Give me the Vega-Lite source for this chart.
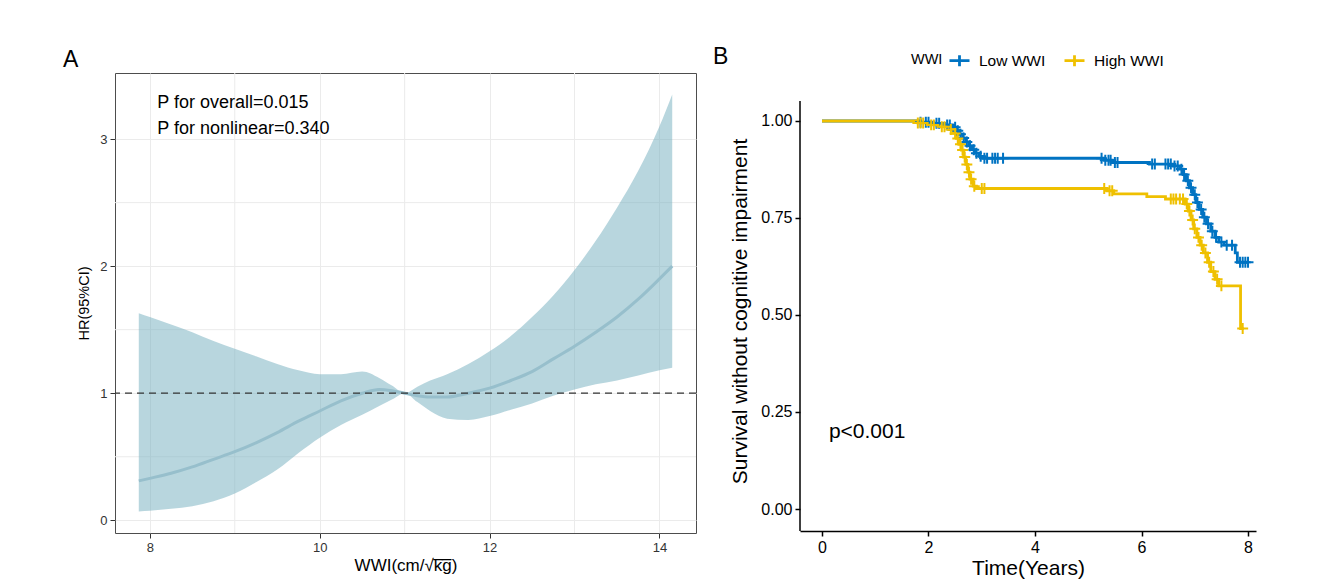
{
  "$schema": "https://vega.github.io/schema/vega-lite/v6.json",
  "padding": {"left": 62, "top": 46, "right": 5, "bottom": 5},
  "background": "white",
  "spacing": 15,
  "resolve": {"scale": {"color": "independent"}, "legend": {"color": "independent"}},
  "config": {"font": "Liberation Sans", "view": {"stroke": null}},
  "datasets": {
    "curve": [
      {"x": 7.87, "hr": 0.31, "lo": 0.07, "hi": 1.63},
      {"x": 8.0, "hr": 0.33, "lo": 0.075, "hi": 1.60},
      {"x": 8.25, "hr": 0.37, "lo": 0.09, "hi": 1.54},
      {"x": 8.5, "hr": 0.42, "lo": 0.11, "hi": 1.48},
      {"x": 8.75, "hr": 0.48, "lo": 0.15, "hi": 1.41},
      {"x": 9.0, "hr": 0.54, "lo": 0.21, "hi": 1.35},
      {"x": 9.25, "hr": 0.61, "lo": 0.30, "hi": 1.29},
      {"x": 9.5, "hr": 0.69, "lo": 0.40, "hi": 1.23},
      {"x": 9.75, "hr": 0.78, "lo": 0.53, "hi": 1.18},
      {"x": 10.0, "hr": 0.86, "lo": 0.65, "hi": 1.15},
      {"x": 10.25, "hr": 0.94, "lo": 0.75, "hi": 1.15},
      {"x": 10.5, "hr": 1.0, "lo": 0.83, "hi": 1.17},
      {"x": 10.7, "hr": 1.03, "lo": 0.90, "hi": 1.12},
      {"x": 10.85, "hr": 1.02, "lo": 0.95, "hi": 1.06},
      {"x": 11.0, "hr": 1.0, "lo": 1.0, "hi": 1.0},
      {"x": 11.15, "hr": 0.98, "lo": 0.93, "hi": 1.05},
      {"x": 11.3, "hr": 0.97, "lo": 0.86, "hi": 1.10},
      {"x": 11.5, "hr": 0.97, "lo": 0.80, "hi": 1.15},
      {"x": 11.75, "hr": 1.0, "lo": 0.79, "hi": 1.23},
      {"x": 12.0, "hr": 1.04, "lo": 0.82, "hi": 1.33},
      {"x": 12.25, "hr": 1.10, "lo": 0.87, "hi": 1.45},
      {"x": 12.5, "hr": 1.17, "lo": 0.92, "hi": 1.60},
      {"x": 12.75, "hr": 1.27, "lo": 0.98, "hi": 1.77},
      {"x": 13.0, "hr": 1.37, "lo": 1.03, "hi": 1.97},
      {"x": 13.25, "hr": 1.48, "lo": 1.07, "hi": 2.20},
      {"x": 13.5, "hr": 1.60, "lo": 1.10, "hi": 2.46},
      {"x": 13.75, "hr": 1.74, "lo": 1.14, "hi": 2.75},
      {"x": 14.0, "hr": 1.90, "lo": 1.18, "hi": 3.10},
      {"x": 14.15, "hr": 2.00, "lo": 1.20, "hi": 3.35}
    ],
    "gridx": [{"v": 9}, {"v": 11}, {"v": 13}],
    "gridy": [{"v": 0.5}, {"v": 1.5}, {"v": 2.5}],
    "ref": [{"v": 1}],
    "km": [
      {"group": "Low WWI", "time": 0, "surv": 1.0},
      {"group": "Low WWI", "time": 1.85, "surv": 0.997},
      {"group": "Low WWI", "time": 2.1, "surv": 0.994},
      {"group": "Low WWI", "time": 2.3, "surv": 0.99},
      {"group": "Low WWI", "time": 2.45, "surv": 0.984},
      {"group": "Low WWI", "time": 2.52, "surv": 0.975},
      {"group": "Low WWI", "time": 2.58, "surv": 0.966},
      {"group": "Low WWI", "time": 2.64, "surv": 0.956},
      {"group": "Low WWI", "time": 2.70, "surv": 0.946},
      {"group": "Low WWI", "time": 2.76, "surv": 0.936},
      {"group": "Low WWI", "time": 2.82, "surv": 0.926},
      {"group": "Low WWI", "time": 2.88, "surv": 0.917},
      {"group": "Low WWI", "time": 2.95, "surv": 0.909},
      {"group": "Low WWI", "time": 3.02, "surv": 0.904},
      {"group": "Low WWI", "time": 5.3, "surv": 0.899},
      {"group": "Low WWI", "time": 5.45, "surv": 0.893},
      {"group": "Low WWI", "time": 6.15, "surv": 0.889},
      {"group": "Low WWI", "time": 6.6, "surv": 0.884},
      {"group": "Low WWI", "time": 6.72, "surv": 0.876},
      {"group": "Low WWI", "time": 6.78, "surv": 0.862},
      {"group": "Low WWI", "time": 6.84, "surv": 0.846},
      {"group": "Low WWI", "time": 6.90, "surv": 0.828},
      {"group": "Low WWI", "time": 6.96, "surv": 0.81},
      {"group": "Low WWI", "time": 7.02, "surv": 0.79},
      {"group": "Low WWI", "time": 7.08, "surv": 0.772},
      {"group": "Low WWI", "time": 7.15, "surv": 0.752},
      {"group": "Low WWI", "time": 7.22, "surv": 0.735},
      {"group": "Low WWI", "time": 7.30, "surv": 0.716},
      {"group": "Low WWI", "time": 7.38, "surv": 0.70},
      {"group": "Low WWI", "time": 7.45, "surv": 0.688},
      {"group": "Low WWI", "time": 7.55, "surv": 0.68},
      {"group": "Low WWI", "time": 7.76, "surv": 0.66},
      {"group": "Low WWI", "time": 7.80, "surv": 0.636},
      {"group": "Low WWI", "time": 8.0, "surv": 0.636},
      {"group": "High WWI", "time": 0, "surv": 1.0},
      {"group": "High WWI", "time": 1.8, "surv": 0.995},
      {"group": "High WWI", "time": 2.0, "surv": 0.99},
      {"group": "High WWI", "time": 2.2, "surv": 0.985},
      {"group": "High WWI", "time": 2.38, "surv": 0.978},
      {"group": "High WWI", "time": 2.46, "surv": 0.968},
      {"group": "High WWI", "time": 2.52, "surv": 0.955},
      {"group": "High WWI", "time": 2.57, "surv": 0.94},
      {"group": "High WWI", "time": 2.62, "surv": 0.925},
      {"group": "High WWI", "time": 2.66, "surv": 0.907},
      {"group": "High WWI", "time": 2.70, "surv": 0.888},
      {"group": "High WWI", "time": 2.74, "surv": 0.868},
      {"group": "High WWI", "time": 2.78, "surv": 0.85},
      {"group": "High WWI", "time": 2.84, "surv": 0.832},
      {"group": "High WWI", "time": 2.90, "surv": 0.826},
      {"group": "High WWI", "time": 5.35, "surv": 0.82},
      {"group": "High WWI", "time": 5.48, "surv": 0.812},
      {"group": "High WWI", "time": 6.10, "surv": 0.805},
      {"group": "High WWI", "time": 6.45, "surv": 0.799},
      {"group": "High WWI", "time": 6.82, "surv": 0.786},
      {"group": "High WWI", "time": 6.88, "surv": 0.768},
      {"group": "High WWI", "time": 6.93, "surv": 0.745},
      {"group": "High WWI", "time": 6.98, "surv": 0.722},
      {"group": "High WWI", "time": 7.04, "surv": 0.70},
      {"group": "High WWI", "time": 7.10, "surv": 0.68},
      {"group": "High WWI", "time": 7.16, "surv": 0.66},
      {"group": "High WWI", "time": 7.24, "surv": 0.636},
      {"group": "High WWI", "time": 7.30, "surv": 0.612},
      {"group": "High WWI", "time": 7.38, "surv": 0.592},
      {"group": "High WWI", "time": 7.45, "surv": 0.575},
      {"group": "High WWI", "time": 7.86, "surv": 0.465},
      {"group": "High WWI", "time": 7.92, "surv": 0.465}
    ],
    "censor": [
      {"group": "Low WWI", "time": 1.85, "surv": 0.997},
      {"group": "Low WWI", "time": 1.95, "surv": 0.997},
      {"group": "Low WWI", "time": 2.0, "surv": 0.997},
      {"group": "Low WWI", "time": 2.15, "surv": 0.994},
      {"group": "Low WWI", "time": 2.2, "surv": 0.994},
      {"group": "Low WWI", "time": 2.35, "surv": 0.99},
      {"group": "Low WWI", "time": 2.4, "surv": 0.99},
      {"group": "Low WWI", "time": 2.5, "surv": 0.984},
      {"group": "Low WWI", "time": 2.55, "surv": 0.975},
      {"group": "Low WWI", "time": 2.6, "surv": 0.966},
      {"group": "Low WWI", "time": 2.66, "surv": 0.956},
      {"group": "Low WWI", "time": 2.72, "surv": 0.946},
      {"group": "Low WWI", "time": 2.78, "surv": 0.936},
      {"group": "Low WWI", "time": 2.85, "surv": 0.926},
      {"group": "Low WWI", "time": 2.9, "surv": 0.917},
      {"group": "Low WWI", "time": 2.98, "surv": 0.909},
      {"group": "Low WWI", "time": 3.05, "surv": 0.904},
      {"group": "Low WWI", "time": 3.1, "surv": 0.904},
      {"group": "Low WWI", "time": 3.2, "surv": 0.904},
      {"group": "Low WWI", "time": 3.25, "surv": 0.904},
      {"group": "Low WWI", "time": 3.3, "surv": 0.904},
      {"group": "Low WWI", "time": 3.4, "surv": 0.904},
      {"group": "Low WWI", "time": 5.25, "surv": 0.904},
      {"group": "Low WWI", "time": 5.32, "surv": 0.899},
      {"group": "Low WWI", "time": 5.38, "surv": 0.899},
      {"group": "Low WWI", "time": 5.42, "surv": 0.899},
      {"group": "Low WWI", "time": 5.5, "surv": 0.893},
      {"group": "Low WWI", "time": 5.55, "surv": 0.893},
      {"group": "Low WWI", "time": 6.2, "surv": 0.889},
      {"group": "Low WWI", "time": 6.25, "surv": 0.889},
      {"group": "Low WWI", "time": 6.45, "surv": 0.889},
      {"group": "Low WWI", "time": 6.5, "surv": 0.889},
      {"group": "Low WWI", "time": 6.55, "surv": 0.889},
      {"group": "Low WWI", "time": 6.62, "surv": 0.884},
      {"group": "Low WWI", "time": 6.68, "surv": 0.884},
      {"group": "Low WWI", "time": 6.75, "surv": 0.876},
      {"group": "Low WWI", "time": 6.8, "surv": 0.862},
      {"group": "Low WWI", "time": 6.87, "surv": 0.846},
      {"group": "Low WWI", "time": 6.93, "surv": 0.828},
      {"group": "Low WWI", "time": 7.0, "surv": 0.81},
      {"group": "Low WWI", "time": 7.05, "surv": 0.79},
      {"group": "Low WWI", "time": 7.12, "surv": 0.772},
      {"group": "Low WWI", "time": 7.18, "surv": 0.752},
      {"group": "Low WWI", "time": 7.25, "surv": 0.735},
      {"group": "Low WWI", "time": 7.33, "surv": 0.716},
      {"group": "Low WWI", "time": 7.4, "surv": 0.70},
      {"group": "Low WWI", "time": 7.5, "surv": 0.688},
      {"group": "Low WWI", "time": 7.6, "surv": 0.68},
      {"group": "Low WWI", "time": 7.7, "surv": 0.68},
      {"group": "Low WWI", "time": 7.85, "surv": 0.636},
      {"group": "Low WWI", "time": 7.9, "surv": 0.636},
      {"group": "Low WWI", "time": 7.95, "surv": 0.636},
      {"group": "Low WWI", "time": 8.0, "surv": 0.636},
      {"group": "High WWI", "time": 1.8, "surv": 0.995},
      {"group": "High WWI", "time": 1.85, "surv": 0.995},
      {"group": "High WWI", "time": 1.9, "surv": 0.995},
      {"group": "High WWI", "time": 2.05, "surv": 0.99},
      {"group": "High WWI", "time": 2.1, "surv": 0.99},
      {"group": "High WWI", "time": 2.25, "surv": 0.985},
      {"group": "High WWI", "time": 2.3, "surv": 0.985},
      {"group": "High WWI", "time": 2.42, "surv": 0.978},
      {"group": "High WWI", "time": 2.5, "surv": 0.968},
      {"group": "High WWI", "time": 2.55, "surv": 0.955},
      {"group": "High WWI", "time": 2.6, "surv": 0.94},
      {"group": "High WWI", "time": 2.64, "surv": 0.925},
      {"group": "High WWI", "time": 2.68, "surv": 0.907},
      {"group": "High WWI", "time": 2.72, "surv": 0.888},
      {"group": "High WWI", "time": 2.76, "surv": 0.868},
      {"group": "High WWI", "time": 2.8, "surv": 0.85},
      {"group": "High WWI", "time": 2.86, "surv": 0.832},
      {"group": "High WWI", "time": 3.0, "surv": 0.826},
      {"group": "High WWI", "time": 3.05, "surv": 0.826},
      {"group": "High WWI", "time": 5.3, "surv": 0.826},
      {"group": "High WWI", "time": 5.4, "surv": 0.82},
      {"group": "High WWI", "time": 5.45, "surv": 0.82},
      {"group": "High WWI", "time": 6.55, "surv": 0.799},
      {"group": "High WWI", "time": 6.6, "surv": 0.799},
      {"group": "High WWI", "time": 6.65, "surv": 0.799},
      {"group": "High WWI", "time": 6.72, "surv": 0.799},
      {"group": "High WWI", "time": 6.78, "surv": 0.799},
      {"group": "High WWI", "time": 6.85, "surv": 0.786},
      {"group": "High WWI", "time": 6.9, "surv": 0.768},
      {"group": "High WWI", "time": 6.96, "surv": 0.745},
      {"group": "High WWI", "time": 7.0, "surv": 0.722},
      {"group": "High WWI", "time": 7.07, "surv": 0.70},
      {"group": "High WWI", "time": 7.13, "surv": 0.68},
      {"group": "High WWI", "time": 7.2, "surv": 0.66},
      {"group": "High WWI", "time": 7.27, "surv": 0.636},
      {"group": "High WWI", "time": 7.35, "surv": 0.612},
      {"group": "High WWI", "time": 7.42, "surv": 0.592},
      {"group": "High WWI", "time": 7.5, "surv": 0.575},
      {"group": "High WWI", "time": 7.9, "surv": 0.465}
    ]
  },
  "hconcat": [
    {
      "width": 581,
      "height": 460,
      "view": {"stroke": "#4d4d4d", "strokeWidth": 1},
      "title": {"text": "A", "anchor": "start", "frame": "group", "fontSize": 23, "fontWeight": "normal", "color": "black", "dx": -52, "offset": -17, "baseline": "alphabetic"},
      "layer": [
        {
          "data": {"name": "gridx"},
          "mark": {"type": "rule", "color": "#ebebeb", "strokeWidth": 1},
          "encoding": {"x": {"field": "v", "type": "quantitative", "scale": {"domain": [7.59, 14.43], "nice": false, "zero": false}}}
        },
        {
          "data": {"name": "gridy"},
          "mark": {"type": "rule", "color": "#ebebeb", "strokeWidth": 1},
          "encoding": {"y": {"field": "v", "type": "quantitative", "scale": {"domain": [-0.1, 3.52], "nice": false, "zero": false}}}
        },
        {
          "data": {"name": "curve"},
          "mark": {"type": "area", "color": "#71adbd", "opacity": 0.5, "interpolate": "monotone"},
          "encoding": {
            "x": {"field": "x", "type": "quantitative", "scale": {"domain": [7.59, 14.43], "nice": false, "zero": false},
              "axis": {"values": [8, 10, 12, 14], "format": "d", "grid": true, "gridColor": "#ebebeb", "domain": false, "tickColor": "#333333", "tickSize": 5, "labelFontSize": 13, "labelColor": "#333333", "labelPadding": 3, "title": "WWI(cm/\u221ak\u0305g\u0305)", "titleFontSize": 17, "titleFontWeight": "normal", "titleColor": "black", "titlePadding": 3}},
            "y": {"field": "lo", "type": "quantitative", "scale": {"domain": [-0.1, 3.52], "nice": false, "zero": false},
              "axis": {"values": [0, 1, 2, 3], "format": "d", "grid": true, "gridColor": "#ebebeb", "domain": false, "tickColor": "#333333", "tickSize": 5, "labelFontSize": 13, "labelColor": "#333333", "labelPadding": 3, "title": "HR(95%CI)", "titleFontSize": 14.5, "titleFontWeight": "normal", "titleColor": "black", "titlePadding": 8}},
            "y2": {"field": "hi"}
          }
        },
        {
          "data": {"name": "curve"},
          "mark": {"type": "line", "color": "#97bfcc", "strokeWidth": 3, "interpolate": "monotone"},
          "encoding": {
            "x": {"field": "x", "type": "quantitative"},
            "y": {"field": "hr", "type": "quantitative"}
          }
        },
        {
          "data": {"name": "ref"},
          "mark": {"type": "rule", "color": "#333333", "strokeWidth": 1.2, "strokeDash": [7, 5]},
          "encoding": {"y": {"field": "v", "type": "quantitative"}}
        },
        {
          "data": {"values": [{}]},
          "mark": {"type": "text", "text": "P for overall=0.015", "align": "left", "baseline": "alphabetic", "fontSize": 18, "color": "black"},
          "encoding": {"x": {"datum": 8.088}, "y": {"datum": 3.246}}
        },
        {
          "data": {"values": [{}]},
          "mark": {"type": "text", "text": "P for nonlinear=0.340", "align": "left", "baseline": "alphabetic", "fontSize": 18, "color": "black"},
          "encoding": {"x": {"datum": 8.088}, "y": {"datum": 3.037}}
        }
      ]
    },
    {
      "width": 456,
      "height": 458,
      "view": {"stroke": null},
      "title": {"text": "B", "anchor": "start", "frame": "group", "fontSize": 23, "fontWeight": "normal", "color": "black", "dx": -87, "offset": -38, "baseline": "alphabetic"},
      "layer": [
        {
          "data": {"values": [{}]},
          "mark": {"type": "rule", "color": "black", "strokeWidth": 1.5},
          "encoding": {"x": {"datum": -0.413}, "y": {"datum": -0.0567}, "y2": {"datum": 1.0515}}
        },
        {
          "data": {"name": "km"},
          "mark": {"type": "line", "interpolate": "step-after", "strokeWidth": 2.8},
          "encoding": {
            "x": {"field": "time", "type": "quantitative", "scale": {"domain": [-0.413, 8.15], "nice": false, "zero": false},
              "axis": {"values": [0, 2, 4, 6, 8], "grid": false, "domain": true, "domainColor": "black", "domainWidth": 1.5, "tickColor": "black", "tickWidth": 1.5, "tickSize": 5, "labelFontSize": 16, "labelColor": "black", "labelPadding": 3, "title": "Time(Years)", "titleFontSize": 21, "titleFontWeight": "normal", "titleColor": "black", "titlePadding": 2}},
            "y": {"field": "surv", "type": "quantitative", "scale": {"domain": [-0.0567, 1.1237], "nice": false, "zero": false},
              "axis": {"values": [0, 0.25, 0.5, 0.75, 1], "format": ".2f", "grid": false, "domain": false, "tickColor": "black", "tickWidth": 1.5, "tickSize": 5, "labelFontSize": 16, "labelColor": "black", "labelPadding": 3, "title": "Survival without cognitive impairment", "titleFontSize": 21, "titleFontWeight": "normal", "titleColor": "black", "titlePadding": 10, "titleY": 238}},
            "color": {"field": "group", "type": "nominal", "scale": {"domain": ["Low WWI", "High WWI"], "range": ["#0073C2", "#EFC000"]},
              "legend": {"orient": "none", "legendX": 111, "legendY": -24, "direction": "horizontal", "title": "WWI", "titleOrient": "left", "titleFontSize": 14.5, "titleFontWeight": "normal", "titleColor": "black", "titlePadding": 5, "labelFontSize": 15.5, "labelColor": "black", "labelOffset": 8, "columnPadding": 12, "symbolType": "M-1,0H1M0,-0.55V0.55", "symbolSize": 400, "symbolStrokeWidth": 2.8, "padding": 0}}
          }
        },
        {
          "data": {"name": "censor"},
          "mark": {"type": "point", "shape": "M-1,0H1M0,-1V1", "filled": false, "size": 120, "strokeWidth": 2, "opacity": 1},
          "encoding": {
            "x": {"field": "time", "type": "quantitative"},
            "y": {"field": "surv", "type": "quantitative"},
            "color": {"field": "group", "type": "nominal"}
          }
        },
        {
          "data": {"values": [{}]},
          "mark": {"type": "text", "text": "p<0.001", "align": "left", "baseline": "alphabetic", "fontSize": 21, "color": "black"},
          "encoding": {"x": {"datum": 0.13}, "y": {"datum": 0.184}}
        }
      ]
    }
  ]
}
